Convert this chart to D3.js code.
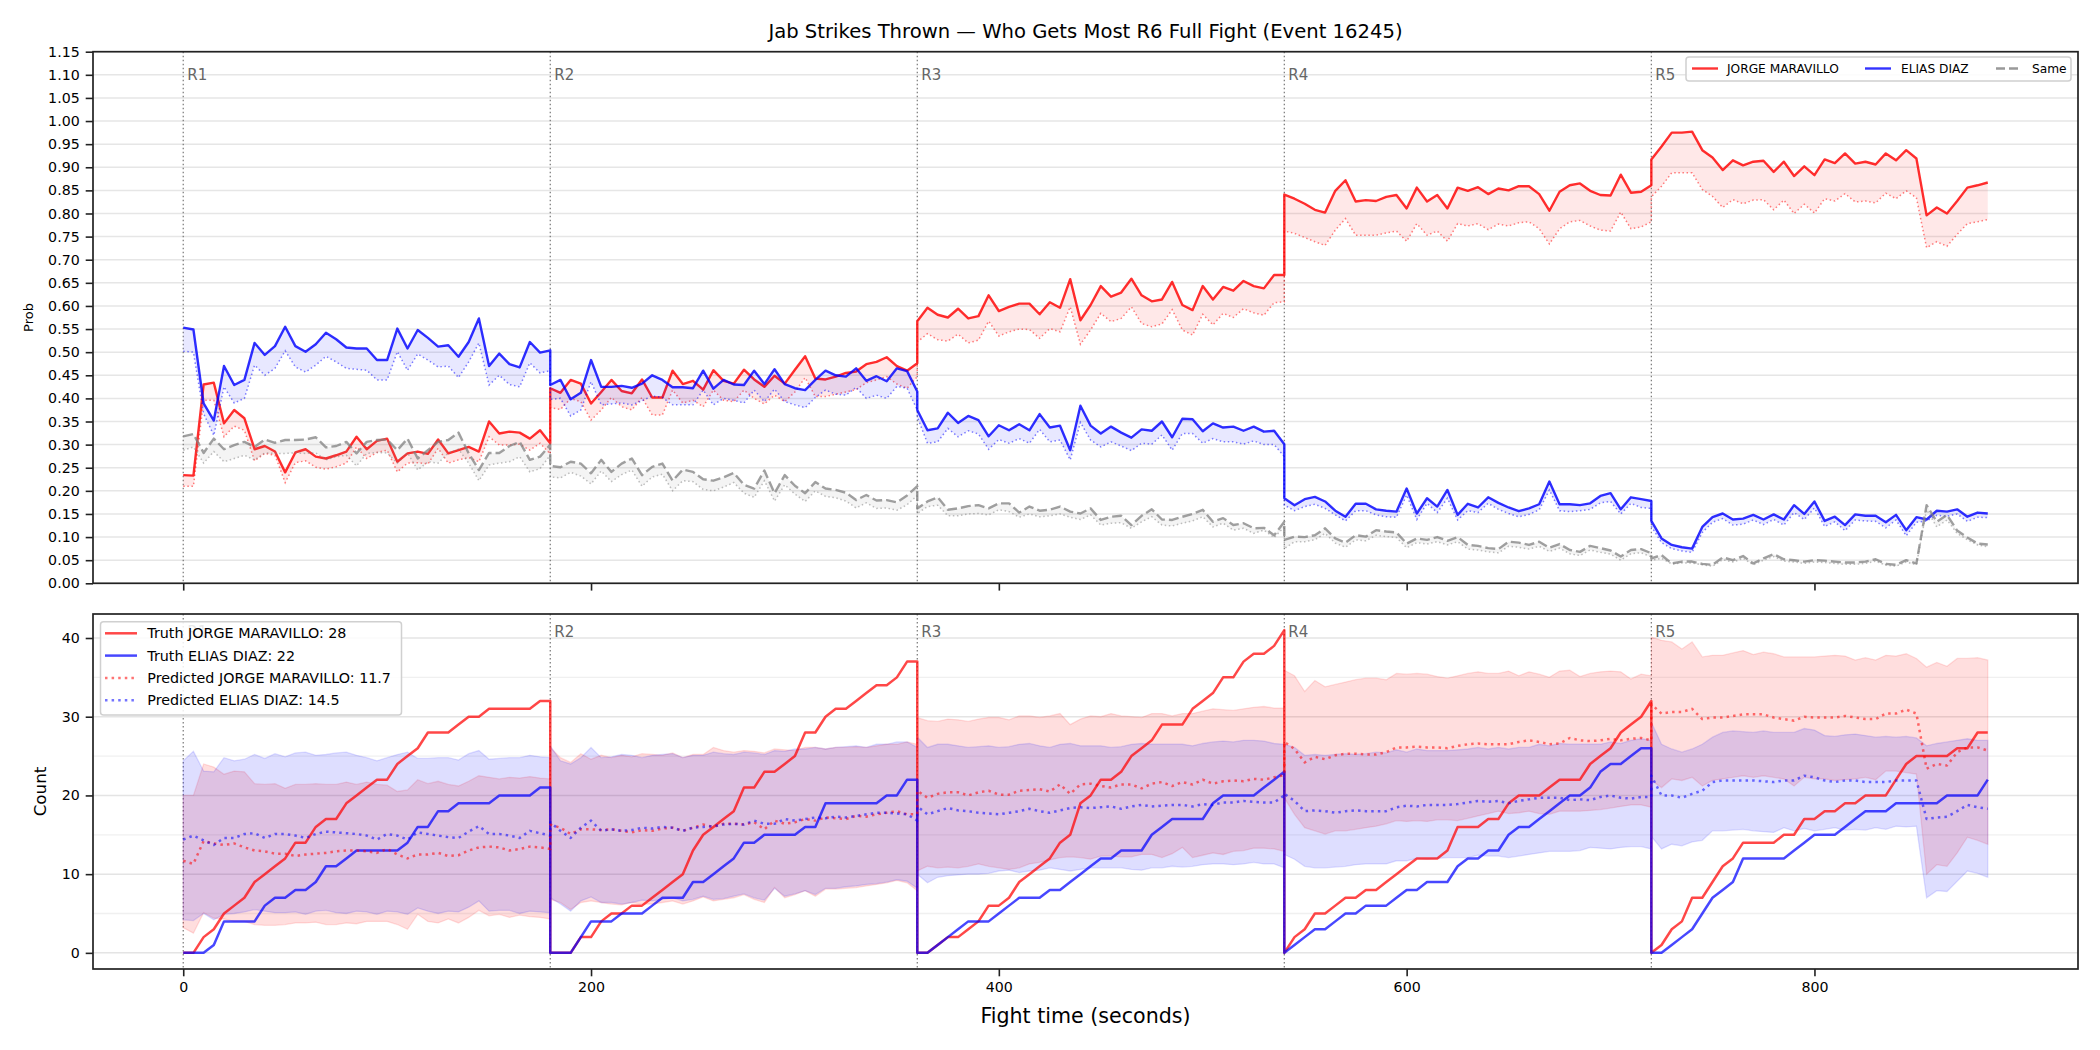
<!DOCTYPE html>
<html>
<head>
<meta charset="utf-8">
<script src="https://cdn.jsdelivr.net/npm/d3@7"></script>
<style>
  body { margin: 0; background: #fff; }
  svg { font-family: "DejaVu Sans", sans-serif; }
</style>
</head>
<body>
<div id="chart"></div>
<script>
// ---- data (one sample every 5 s, each round restarts at its start time) ----
const roundStarts = [0, 180, 360, 540, 720];
const roundLabels = ["R1", "R2", "R3", "R4", "R5"];
const stepSec = 5;
const fighterA = "JORGE MARAVILLO";
const fighterB = "ELIAS DIAZ";
const truthTotals = [28, 22];
const predTotals = [11.7, 14.5];

// top panel: win probability, solid = model, dotted = lower estimate
const probRed = [
  [0.234,0.233,0.43,0.434,0.346,0.375,0.357,0.29,0.297,0.285,0.24,0.283,0.29,0.274,0.27,0.277,0.285,0.317,0.29,0.308,0.313,0.263,0.281,0.285,0.28,0.311,0.281,0.288,0.295,0.285,0.35,0.324,0.328,0.326,0.313,0.331,0.303],
  [0.422,0.412,0.44,0.432,0.389,0.414,0.44,0.416,0.411,0.441,0.402,0.402,0.46,0.431,0.438,0.419,0.461,0.438,0.432,0.462,0.441,0.425,0.449,0.432,0.462,0.491,0.443,0.441,0.447,0.455,0.458,0.474,0.479,0.489,0.47,0.46,0.476],
  [0.567,0.596,0.581,0.575,0.594,0.573,0.578,0.623,0.589,0.598,0.605,0.605,0.582,0.608,0.596,0.658,0.569,0.602,0.643,0.62,0.629,0.659,0.623,0.61,0.614,0.652,0.602,0.591,0.643,0.614,0.641,0.633,0.654,0.643,0.638,0.667,0.667],
  [0.841,0.832,0.821,0.808,0.802,0.849,0.872,0.826,0.829,0.827,0.836,0.84,0.811,0.856,0.826,0.84,0.811,0.856,0.849,0.857,0.842,0.854,0.85,0.859,0.859,0.842,0.806,0.847,0.861,0.865,0.849,0.84,0.839,0.884,0.845,0.847,0.861],
  [0.917,0.945,0.975,0.975,0.977,0.937,0.921,0.894,0.915,0.904,0.912,0.914,0.89,0.912,0.881,0.902,0.883,0.917,0.909,0.93,0.908,0.912,0.906,0.93,0.915,0.937,0.919,0.796,0.813,0.8,0.827,0.856,0.861,0.867]
];
const probRedLow = [
  [0.21,0.21,0.396,0.396,0.317,0.34,0.331,0.265,0.281,0.277,0.218,0.261,0.265,0.251,0.247,0.252,0.26,0.295,0.27,0.283,0.288,0.241,0.26,0.261,0.258,0.292,0.26,0.267,0.272,0.263,0.317,0.299,0.299,0.301,0.288,0.303,0.28],
  [0.38,0.376,0.40,0.393,0.353,0.375,0.402,0.382,0.375,0.402,0.364,0.364,0.418,0.39,0.396,0.382,0.418,0.396,0.393,0.418,0.40,0.388,0.407,0.393,0.414,0.445,0.404,0.404,0.409,0.414,0.419,0.434,0.44,0.447,0.431,0.422,0.447],
  [0.522,0.54,0.527,0.524,0.539,0.52,0.526,0.567,0.535,0.544,0.55,0.549,0.53,0.551,0.544,0.598,0.517,0.548,0.584,0.566,0.573,0.598,0.562,0.555,0.561,0.592,0.548,0.537,0.582,0.559,0.584,0.575,0.594,0.585,0.58,0.607,0.609],
  [0.762,0.757,0.748,0.739,0.731,0.764,0.789,0.753,0.753,0.753,0.758,0.762,0.74,0.778,0.753,0.762,0.74,0.778,0.773,0.778,0.765,0.777,0.773,0.78,0.782,0.767,0.734,0.767,0.782,0.785,0.773,0.764,0.762,0.803,0.767,0.771,0.782],
  [0.836,0.859,0.888,0.888,0.888,0.852,0.837,0.813,0.83,0.821,0.829,0.83,0.808,0.829,0.80,0.82,0.801,0.832,0.827,0.843,0.825,0.827,0.823,0.844,0.832,0.849,0.834,0.726,0.739,0.729,0.755,0.778,0.782,0.787]
];
const probBlue = [
  [0.553,0.549,0.389,0.352,0.47,0.429,0.44,0.52,0.494,0.513,0.555,0.513,0.501,0.517,0.542,0.528,0.51,0.508,0.508,0.483,0.483,0.551,0.508,0.548,0.531,0.512,0.515,0.49,0.522,0.573,0.47,0.497,0.474,0.467,0.522,0.499,0.504],
  [0.429,0.44,0.398,0.412,0.483,0.425,0.425,0.427,0.423,0.432,0.45,0.44,0.424,0.424,0.422,0.46,0.421,0.44,0.43,0.429,0.46,0.431,0.463,0.431,0.422,0.418,0.44,0.46,0.45,0.447,0.465,0.438,0.448,0.437,0.465,0.459,0.415],
  [0.375,0.331,0.335,0.369,0.347,0.362,0.353,0.318,0.342,0.331,0.344,0.331,0.366,0.337,0.341,0.288,0.384,0.341,0.324,0.339,0.326,0.315,0.333,0.33,0.35,0.316,0.356,0.355,0.329,0.346,0.337,0.339,0.33,0.339,0.328,0.33,0.301],
  [0.184,0.169,0.182,0.187,0.177,0.157,0.144,0.172,0.172,0.16,0.157,0.155,0.205,0.151,0.184,0.166,0.202,0.148,0.172,0.164,0.186,0.174,0.164,0.156,0.162,0.171,0.22,0.171,0.171,0.169,0.173,0.189,0.195,0.16,0.186,0.182,0.178],
  [0.135,0.097,0.083,0.078,0.075,0.122,0.143,0.151,0.138,0.14,0.148,0.138,0.149,0.138,0.169,0.15,0.177,0.135,0.144,0.126,0.149,0.146,0.146,0.132,0.148,0.115,0.143,0.138,0.157,0.155,0.16,0.144,0.153,0.151]
];
const probBlueLow = [
  [0.502,0.5,0.367,0.32,0.425,0.39,0.4,0.472,0.45,0.465,0.503,0.468,0.457,0.472,0.491,0.479,0.465,0.463,0.461,0.44,0.44,0.501,0.461,0.496,0.483,0.468,0.47,0.445,0.479,0.52,0.429,0.45,0.43,0.425,0.477,0.455,0.46],
  [0.398,0.40,0.362,0.375,0.436,0.386,0.388,0.39,0.386,0.395,0.405,0.402,0.386,0.386,0.386,0.418,0.386,0.40,0.396,0.39,0.418,0.393,0.42,0.393,0.386,0.38,0.402,0.418,0.409,0.407,0.424,0.40,0.407,0.40,0.426,0.422,0.375],
  [0.36,0.303,0.306,0.335,0.317,0.33,0.323,0.29,0.311,0.303,0.313,0.303,0.333,0.306,0.31,0.267,0.348,0.31,0.295,0.306,0.297,0.287,0.303,0.301,0.321,0.288,0.324,0.324,0.303,0.313,0.306,0.306,0.301,0.308,0.30,0.30,0.274],
  [0.169,0.157,0.166,0.171,0.162,0.148,0.135,0.157,0.157,0.148,0.144,0.143,0.191,0.138,0.173,0.153,0.184,0.137,0.157,0.153,0.173,0.16,0.151,0.144,0.149,0.159,0.202,0.157,0.155,0.157,0.16,0.174,0.177,0.15,0.173,0.164,0.162],
  [0.123,0.088,0.075,0.07,0.067,0.11,0.132,0.14,0.126,0.128,0.137,0.127,0.138,0.126,0.153,0.138,0.163,0.123,0.133,0.114,0.137,0.135,0.134,0.12,0.137,0.103,0.132,0.135,0.147,0.145,0.15,0.134,0.143,0.142]
];
const probSame = [
  [0.318,0.323,0.282,0.313,0.29,0.299,0.306,0.295,0.311,0.304,0.31,0.31,0.311,0.316,0.294,0.297,0.306,0.281,0.306,0.31,0.311,0.288,0.313,0.27,0.288,0.306,0.31,0.326,0.281,0.245,0.282,0.282,0.297,0.306,0.267,0.274,0.30],
  [0.254,0.251,0.263,0.259,0.238,0.267,0.241,0.259,0.27,0.234,0.252,0.259,0.222,0.246,0.241,0.225,0.222,0.229,0.239,0.213,0.205,0.244,0.195,0.234,0.211,0.195,0.219,0.205,0.202,0.196,0.18,0.191,0.179,0.18,0.175,0.19,0.21],
  [0.162,0.177,0.186,0.159,0.162,0.167,0.169,0.162,0.173,0.173,0.153,0.166,0.157,0.159,0.166,0.155,0.151,0.162,0.137,0.144,0.146,0.126,0.146,0.16,0.138,0.137,0.144,0.15,0.159,0.133,0.141,0.126,0.13,0.119,0.12,0.104,0.133],
  [0.094,0.101,0.1,0.104,0.119,0.097,0.088,0.104,0.101,0.115,0.112,0.11,0.086,0.097,0.094,0.1,0.092,0.1,0.083,0.081,0.076,0.074,0.09,0.088,0.083,0.09,0.077,0.085,0.072,0.068,0.081,0.076,0.071,0.058,0.072,0.074,0.065],
  [0.054,0.061,0.043,0.047,0.047,0.042,0.04,0.056,0.05,0.059,0.043,0.054,0.063,0.052,0.05,0.047,0.05,0.049,0.047,0.045,0.045,0.047,0.052,0.042,0.04,0.05,0.043,0.169,0.133,0.148,0.114,0.099,0.086,0.084]
];
const probSameLow = [
  [0.288,0.295,0.26,0.285,0.263,0.27,0.277,0.267,0.282,0.281,0.281,0.282,0.281,0.282,0.267,0.274,0.277,0.254,0.281,0.283,0.282,0.26,0.282,0.245,0.263,0.26,0.282,0.29,0.26,0.222,0.256,0.26,0.263,0.274,0.241,0.248,0.277],
  [0.23,0.228,0.24,0.232,0.215,0.243,0.22,0.235,0.245,0.21,0.23,0.236,0.2,0.222,0.22,0.203,0.2,0.208,0.218,0.195,0.186,0.222,0.178,0.213,0.193,0.177,0.2,0.188,0.185,0.178,0.163,0.174,0.162,0.163,0.158,0.17,0.19],
  [0.151,0.166,0.169,0.146,0.146,0.15,0.151,0.148,0.159,0.155,0.143,0.15,0.144,0.146,0.15,0.143,0.138,0.148,0.126,0.13,0.131,0.119,0.133,0.144,0.126,0.124,0.13,0.135,0.144,0.122,0.13,0.115,0.119,0.108,0.115,0.099,0.122],
  [0.075,0.09,0.09,0.094,0.108,0.087,0.078,0.094,0.092,0.104,0.101,0.099,0.077,0.088,0.085,0.09,0.083,0.09,0.074,0.072,0.068,0.066,0.08,0.078,0.074,0.08,0.069,0.076,0.064,0.06,0.072,0.067,0.063,0.05,0.064,0.066,0.057],
  [0.05,0.054,0.042,0.044,0.044,0.04,0.037,0.051,0.046,0.054,0.04,0.05,0.058,0.048,0.046,0.043,0.046,0.045,0.043,0.041,0.041,0.043,0.048,0.039,0.037,0.046,0.04,0.159,0.122,0.137,0.108,0.094,0.083,0.079]
];

// bottom panel: cumulative jab counts per round
const truthRed = [
  [0,0,2,3,5,6,7,9,10,11,12,14,14,16,17,17,19,20,21,22,22,24,25,26,28,28,28,29,30,30,31,31,31,31,31,32,32],
  [0,0,0,2,2,4,5,5,6,6,7,8,9,10,13,15,16,17,18,21,21,23,23,24,25,28,28,30,31,31,32,33,34,34,35,37,37],
  [0,0,1,2,2,3,4,6,6,7,9,10,11,12,14,15,19,20,22,22,23,25,26,27,29,29,29,31,32,33,35,35,37,38,38,39,41],
  [0,2,3,5,5,6,7,7,8,8,9,10,11,12,12,12,13,16,16,16,17,17,19,20,20,20,21,22,22,22,24,25,26,28,29,30,32],
  [0,1,3,4,7,7,9,11,12,14,14,14,14,15,15,17,17,18,18,19,19,20,20,20,22,24,25,25,25,25,26,26,28,28]
];
const truthBlue = [
  [0,0,0,1,4,4,4,4,6,7,7,8,8,9,11,11,12,13,13,13,13,13,14,16,16,18,18,19,19,19,19,20,20,20,20,21,21],
  [0,0,0,2,4,4,4,5,5,5,6,7,7,7,9,9,10,11,12,14,14,15,15,15,15,16,16,19,19,19,19,19,19,20,20,22,22],
  [0,0,1,2,3,4,4,4,5,6,7,7,7,8,8,9,10,11,12,12,13,13,13,15,16,17,17,17,17,19,20,20,20,20,21,22,23],
  [0,1,2,3,3,4,5,5,6,6,6,7,8,8,9,9,9,11,12,12,13,13,15,16,16,17,18,19,20,20,21,23,24,24,25,26,26],
  [0,0,1,2,3,5,7,8,9,12,12,12,12,12,13,14,15,15,15,16,17,18,18,18,19,19,19,19,19,20,20,20,20,22]
];
const predRed = [
  [11.7,11.3,14.2,13.9,13.7,13.9,13.4,13.0,12.9,12.6,12.6,12.3,12.5,12.6,12.7,12.9,13.0,13.0,12.9,12.7,13.2,12.5,12.0,12.5,12.5,12.7,12.3,12.4,13.0,13.4,13.5,13.4,13.0,13.2,13.5,13.4,13.2],
  [16.3,15.9,15.1,15.7,15.7,15.6,15.7,15.5,15.3,15.6,15.5,15.8,15.9,15.5,15.9,16.3,16.0,16.4,16.4,16.3,16.6,15.7,16.8,16.4,16.6,17.0,16.8,17.2,17.1,17.0,17.4,17.3,17.6,17.8,18.0,17.6,17.6],
  [20.6,19.7,20.2,20.4,20.4,20.0,20.4,20.6,20.1,20.1,20.6,20.7,20.8,20.5,21.4,20.2,21.4,21.5,21.2,21.0,21.4,21.4,20.9,21.5,21.7,21.2,21.7,21.4,22.0,21.5,21.8,21.9,21.8,22.1,22.0,22.3,22.6],
  [26.8,25.9,24.2,24.9,24.6,25.1,25.3,25.3,25.2,25.2,25.5,26.1,26.1,26.2,26.1,26.1,26.0,26.3,26.5,26.6,26.5,26.5,26.5,26.8,27.0,26.8,26.5,26.6,27.3,27.0,26.9,27.0,27.2,27.0,27.2,27.3,27.0],
  [31.6,30.4,30.6,30.6,31.0,29.7,29.9,29.9,30.1,30.3,30.3,30.3,29.9,29.7,29.5,30.0,29.9,29.9,29.9,30.1,29.9,29.7,29.7,30.4,30.4,30.9,30.4,23.4,24.0,23.8,25.5,26.1,26.1,25.7]
];
const predBlue = [
  [14.4,14.9,14.3,13.7,14.6,14.6,15.1,15.2,14.6,15.1,15.1,14.9,14.6,15.1,15.4,15.3,15.2,15.1,14.9,14.4,15.1,14.9,14.4,15.3,15.1,14.9,14.7,14.6,15.4,16.1,15.1,15.1,14.9,14.6,15.5,15.2,14.9],
  [16.6,15.5,14.6,15.9,16.8,15.5,15.7,15.5,15.6,15.9,15.8,16.0,15.9,15.5,15.9,16.0,16.1,16.3,16.4,16.3,16.8,16.4,16.4,17.0,16.8,17.0,17.2,17.1,17.3,17.2,17.4,17.6,17.8,17.8,17.7,17.6,16.8],
  [18.6,17.6,18.0,18.4,18.1,18.0,17.8,17.7,17.6,17.8,18.0,18.3,18.0,17.8,18.1,18.4,18.5,18.4,18.5,18.6,18.3,18.6,18.8,18.6,18.7,18.8,18.8,18.6,18.9,18.8,19.1,19.1,19.3,19.2,19.1,19.1,20.0],
  [20.2,19.3,18.0,18.1,18.0,17.8,18.0,18.1,18.0,18.0,18.0,18.5,18.7,18.6,18.8,18.8,18.8,18.9,19.1,19.3,19.2,19.3,19.0,19.3,19.5,19.7,19.7,19.7,19.4,19.5,19.4,19.8,20.0,19.7,19.6,19.8,19.8],
  [22.5,20.0,20.0,19.7,20.2,20.6,21.7,21.9,21.9,21.9,21.9,21.8,21.7,21.9,21.9,22.5,22.3,21.9,21.7,21.9,21.9,21.7,21.7,21.7,21.9,21.9,21.9,17.0,17.2,17.3,18.0,18.8,18.5,18.3]
];
const bandRedHi = [
  [20,20,24,23.6,22.7,23.1,23,21.5,21.4,21.5,20.9,21.4,21.4,21.5,21.4,21.4,21.7,21.4,21.7,21.4,21.3,20.5,20.7,22,21.5,21.8,21.4,21.2,21.8,22.5,22.3,22.1,22.3,22.2,22.4,22.2,22.1],
  [26.1,24.8,24.2,25.3,24.6,25.1,24.8,25.1,24.9,25.3,25.2,25.1,25.4,24.8,25.2,25.2,26.1,25.7,25.5,25.7,25.6,25.4,25.9,25.8,25.7,26.1,26.1,25.9,26.1,26.1,26.2,26.1,26.3,26.5,26.5,26.8,26.5],
  [29.9,29.5,29.4,29.7,29.6,29.4,29.7,29.9,29.9,29.6,30.1,30.1,29.9,30.1,30.4,29.0,29.7,30.1,30.0,30.4,30.1,30.0,29.9,30.4,30.4,30.1,30.4,30.4,30.7,31.0,30.9,30.8,31.0,31.2,31.3,31.1,31.1],
  [35.9,35.2,33.2,34.6,33.8,34.1,34.4,34.7,34.9,34.9,34.7,35.5,35.4,35.5,35.4,35.1,34.9,35.2,35.5,35.7,35.5,35.5,35.8,35.2,35.7,35.4,35.0,35.8,35.9,35.1,35.5,35.7,35.8,35.7,34.8,35.4,35.2],
  [40.1,39.7,39.5,38.6,39.5,37.6,37.8,37.8,38.1,38.4,37.9,38.2,38.0,37.6,37.6,37.6,37.6,37.7,37.8,37.7,37.2,37.5,37.2,37.8,37.7,38.0,37.4,36.3,36.9,36.4,37.4,37.4,37.5,37.2]
];
const bandRedLo = [
  [3.2,2.5,5.1,4.4,4.3,4.0,4.0,3.6,3.5,3.5,3.6,3.8,3.8,3.9,3.6,3.6,3.8,3.7,4.0,4.0,4.0,3.6,3.0,4.9,4.0,3.8,4.3,3.8,4.5,5.4,4.7,4.9,4.5,4.8,4.6,4.5,4.3],
  [6.8,6.4,5.5,6.4,6.6,6.4,6.2,6.1,6.4,6.2,6.2,6.4,6.6,6.2,6.6,7.1,6.6,6.8,7.0,7.4,6.8,6.4,8.3,7.0,7.4,7.9,7.2,8.1,8.1,8.2,8.3,8.5,8.7,8.9,9.2,8.9,7.9],
  [10.4,11.0,10.8,10.9,10.8,11.0,11.3,11.0,10.8,10.6,10.8,11.3,11.5,11.8,12.1,12.2,12.1,11.9,12.3,12.3,12.2,12.2,12.5,12.5,12.1,12.6,13.4,12.1,12.4,12.7,12.5,12.9,13.0,13.3,13.3,13.2,12.9],
  [19.7,17.6,15.9,15.5,15.1,15.5,15.5,15.7,15.9,16.1,16.4,16.8,16.7,16.8,16.7,16.9,16.9,16.8,17.1,17.4,17.7,18.0,17.7,17.8,18.0,17.7,17.6,18.0,18.0,18.0,18.1,18.2,18.4,18.6,18.8,18.8,18.5],
  [21.9,21.0,22.1,21.9,22.3,21.2,21.9,22.1,22.3,22.5,22.3,22.5,22.3,22.1,21.2,22.3,22.1,22.1,21.9,22.0,22.1,22.3,22.0,23.1,23.1,22.9,22.7,10.0,11.2,11.0,12.7,14.7,14.3,13.8]
];
const bandBlueHi = [
  [24.4,25.6,23.1,23,24.8,24.4,24.6,25.2,24.7,25.3,24.9,25.4,25.5,25.1,25.2,25.4,25.5,25.1,24.8,24.4,24.8,25.2,25.5,24.7,24.7,24.8,24.8,24.5,25.3,25.7,24.6,24.7,24.8,24.8,25.1,24.9,24.8],
  [26.3,24.4,24.0,24.8,26.1,24.8,24.9,25.2,25.1,24.8,25.1,25.2,25.3,24.8,25.1,25.1,25.5,25.3,25.2,25.5,25.4,25.2,25.7,25.6,25.9,25.9,26.1,25.9,26.1,26.2,26.3,26.1,26.5,26.5,26.8,26.8,26.1],
  [27.4,26.1,26.5,26.5,26.3,26.1,26.2,26.3,26.1,26.2,26.5,26.6,26.3,26.1,26.5,26.6,26.3,26.3,26.3,26.1,26.2,26.5,26.6,26.5,26.5,26.5,26.5,26.3,26.6,26.8,26.9,26.8,27.0,27.0,26.9,26.6,26.5],
  [26.5,26.1,25.1,25.2,25.1,25.2,25.3,25.2,25.3,25.5,25.4,25.8,25.5,25.9,25.7,25.7,25.7,25.8,25.9,26.1,25.9,26.1,25.9,26.1,26.1,26.5,26.3,26.6,26.5,26.5,26.5,26.5,26.8,26.6,27.0,27.2,27.0],
  [29.3,26.5,25.9,25.5,25.9,26.5,27.4,28.0,28.2,28.1,28.0,28.2,28.0,28.0,28.0,28.5,28.3,27.6,27.5,27.7,27.8,27.6,27.4,27.5,27.4,27.5,27.3,26.3,26.6,26.8,27.0,27.2,27.0,27.0]
];
const bandBlueLo = [
  [4.2,4.1,5.0,4.2,4.9,5.0,5.2,5.5,5.3,5.1,5.1,5.2,4.9,5.3,5.4,5.1,5.0,5.3,5.2,4.9,5.3,5.2,4.9,5.7,5.3,5.0,5.3,5.2,5.8,6.6,5.3,5.4,5.4,5.0,5.3,5.2,5.1],
  [7.0,6.2,5.3,6.6,7.1,6.4,6.4,6.2,6.4,6.7,6.6,6.8,7.0,6.6,6.8,7.2,6.8,6.9,7.2,7.5,7.0,6.7,8.2,7.2,7.5,7.9,7.4,8.2,8.2,8.4,8.5,8.7,8.8,9.0,9.3,9.1,8.2],
  [10.0,8.9,9.6,9.8,9.9,10.0,10.0,10.1,10.4,10.5,10.2,10.4,10.5,10.8,10.6,10.4,10.6,10.8,10.8,10.8,10.8,10.6,10.5,10.8,10.8,11.0,10.9,11.0,11.2,11.3,11.3,11.2,11.3,11.5,11.3,11.3,10.8],
  [12.5,11.9,11.0,10.8,10.8,10.9,11.0,11.2,11.3,11.3,11.3,11.7,11.7,12.0,11.9,12.0,12.1,12.1,12.1,12.4,12.3,12.3,12.1,12.3,12.5,12.7,12.9,12.9,12.9,13.0,13.4,13.3,13.2,13.4,13.5,13.5,13.2],
  [14.8,13.2,13.8,13.6,14.1,14.3,15.5,15.5,15.6,15.7,15.5,15.4,15.3,15.9,15.5,15.8,15.5,15.7,15.9,15.6,15.7,15.6,15.9,15.7,16.1,16.0,16.1,7.0,7.9,7.8,9.1,10.4,10.1,9.6]
];

const probTicks = d3.range(0, 24).map(i => +(i * 0.05).toFixed(2));
const countTicks = [0, 10, 20, 30, 40];
const countMinor = [5, 15, 25, 35];
const timeTicks = [0, 200, 400, 600, 800];

// ---- layout ----
const W = 2100, H = 1050;
const left = 93, right = 2078;
const topY0 = 51.7, topY1 = 583.3;
const botY0 = 614, botY1 = 969;
const tickFont = 14.2;

const svg = d3.select("#chart").append("svg")
  .attr("width", W).attr("height", H);

const x = d3.scaleLinear().domain([-44.25, 929.25]).range([left, right]);
const yTop = d3.scaleLinear().domain([0, 1.15]).range([topY1, topY0]);
const yBot = d3.scaleLinear().domain([-2.05, 43.05]).range([botY1, botY0]);

// flatten per-round arrays into {t, v}
function toPoints(rounds) {
  const pts = [];
  rounds.forEach((vals, r) => vals.forEach((v, i) => pts.push({ t: roundStarts[r] + stepSec * i, v: v })));
  return pts;
}
function toBand(hiRounds, loRounds) {
  const hi = toPoints(hiRounds), lo = toPoints(loRounds);
  return hi.map((d, i) => ({ t: d.t, hi: d.v, lo: lo[i].v }));
}

const defs = svg.append("defs");
defs.append("clipPath").attr("id", "clipTop").append("rect")
  .attr("x", left).attr("y", topY0).attr("width", right - left).attr("height", topY1 - topY0);
defs.append("clipPath").attr("id", "clipBot").append("rect")
  .attr("x", left).attr("y", botY0).attr("width", right - left).attr("height", botY1 - botY0);

// title
svg.append("text")
  .attr("x", (left + right) / 2).attr("y", 31).attr("dy", "0.35em")
  .attr("text-anchor", "middle").attr("font-size", 19.6).attr("fill", "#000")
  .text("Jab Strikes Thrown \u2014 Who Gets Most R6 Full Fight (Event 16245)");

// ================= TOP PANEL =================
const gTop = svg.append("g");

// grid
gTop.selectAll(".grid").data(probTicks).enter().append("line")
  .attr("x1", left).attr("x2", right)
  .attr("y1", d => yTop(d)).attr("y2", d => yTop(d))
  .attr("stroke", "#e6e6e6").attr("stroke-width", 1.5);

const plotTop = gTop.append("g").attr("clip-path", "url(#clipTop)");

// round markers
plotTop.selectAll(".rline").data(roundStarts).enter().append("line")
  .attr("x1", d => x(d)).attr("x2", d => x(d))
  .attr("y1", topY0).attr("y2", topY1)
  .attr("stroke", "#555").attr("stroke-width", 1.2).attr("stroke-dasharray", "1.5,2.5")
  .attr("opacity", 0.8);
gTop.selectAll(".rlab").data(roundStarts).enter().append("text")
  .attr("x", d => x(d) + 4).attr("y", topY0 + 16).attr("dy", "0.8em")
  .attr("font-size", 15).attr("fill", "#666")
  .text((d, i) => roundLabels[i]);

const probSeries = [
  { hi: probRed, lo: probRedLow, color: "#ff0000", name: fighterA, dash: null },
  { hi: probBlue, lo: probBlueLow, color: "#0000ff", name: fighterB, dash: null },
  { hi: probSame, lo: probSameLow, color: "#808080", name: "Same", dash: "10,4" }
];

probSeries.forEach(s => {
  const band = toBand(s.hi, s.lo);
  plotTop.append("path").datum(band)
    .attr("fill", s.color).attr("fill-opacity", 0.09)
    .attr("d", d3.area().x(d => x(d.t)).y0(d => yTop(d.lo)).y1(d => yTop(d.hi)));
  plotTop.append("path").datum(toPoints(s.lo))
    .attr("fill", "none").attr("stroke", s.color).attr("stroke-opacity", 0.5)
    .attr("stroke-width", 1.5).attr("stroke-dasharray", "1.5,2.6")
    .attr("d", d3.line().x(d => x(d.t)).y(d => yTop(d.v)));
  plotTop.append("path").datum(toPoints(s.hi))
    .attr("fill", "none").attr("stroke", s.color)
    .attr("stroke-opacity", s.dash ? 0.75 : 0.82)
    .attr("stroke-width", 2.4).attr("stroke-dasharray", s.dash)
    .attr("stroke-linejoin", "round")
    .attr("d", d3.line().x(d => x(d.t)).y(d => yTop(d.v)));
});

// axes
const axTopY = gTop.append("g").attr("transform", `translate(${left},0)`)
  .call(d3.axisLeft(yTop).tickValues(probTicks).tickFormat(d3.format(".2f")).tickSize(7.3).tickPadding(6));
const axTopX = gTop.append("g").attr("transform", `translate(0,${topY1})`)
  .call(d3.axisBottom(x).tickValues(timeTicks).tickFormat("").tickSize(7.3));
gTop.append("rect").attr("x", left).attr("y", topY0)
  .attr("width", right - left).attr("height", topY1 - topY0)
  .attr("fill", "none").attr("stroke", "#222").attr("stroke-width", 1.7);

svg.append("text")
  .attr("transform", `translate(28,${(topY0 + topY1) / 2}) rotate(-90)`)
  .attr("text-anchor", "middle").attr("dy", "0.35em")
  .attr("font-size", 13).text("Prob");

// top legend
const lgTop = svg.append("g");
lgTop.append("rect").attr("x", 1686).attr("y", 57).attr("width", 385).attr("height", 24)
  .attr("rx", 3).attr("fill", "#fff").attr("fill-opacity", 0.85)
  .attr("stroke", "#d0d0d0").attr("stroke-width", 1.5);
const topLegendItems = [
  { label: fighterA, color: "#ff0000", dash: null, hx: 1692, tx: 1727 },
  { label: fighterB, color: "#0000ff", dash: null, hx: 1865, tx: 1901 },
  { label: "Same", color: "#808080", dash: "9,4", hx: 1996, tx: 2032 }
];
topLegendItems.forEach(it => {
  lgTop.append("line").attr("x1", it.hx).attr("x2", it.hx + 26).attr("y1", 68.5).attr("y2", 68.5)
    .attr("stroke", it.color).attr("stroke-opacity", 0.8).attr("stroke-width", 2.4)
    .attr("stroke-dasharray", it.dash);
  lgTop.append("text").attr("x", it.tx).attr("y", 68.5).attr("dy", "0.36em")
    .attr("font-size", 12.2).text(it.label);
});

// ================= BOTTOM PANEL =================
const gBot = svg.append("g");

gBot.selectAll(".gridMinor").data(countMinor).enter().append("line")
  .attr("x1", left).attr("x2", right)
  .attr("y1", d => yBot(d)).attr("y2", d => yBot(d))
  .attr("stroke", "#f0f0f0").attr("stroke-width", 1.3);
gBot.selectAll(".grid").data(countTicks).enter().append("line")
  .attr("x1", left).attr("x2", right)
  .attr("y1", d => yBot(d)).attr("y2", d => yBot(d))
  .attr("stroke", "#e4e4e4").attr("stroke-width", 1.5);

const plotBot = gBot.append("g").attr("clip-path", "url(#clipBot)");

plotBot.selectAll(".rline").data(roundStarts).enter().append("line")
  .attr("x1", d => x(d)).attr("x2", d => x(d))
  .attr("y1", botY0).attr("y2", botY1)
  .attr("stroke", "#555").attr("stroke-width", 1.2).attr("stroke-dasharray", "1.5,2.5")
  .attr("opacity", 0.8);
gBot.selectAll(".rlab").data(roundStarts).enter().append("text")
  .attr("x", d => x(d) + 4).attr("y", botY0 + 11).attr("dy", "0.8em")
  .attr("font-size", 15).attr("fill", "#666")
  .text((d, i) => roundLabels[i]);

const bands = [
  { hi: bandRedHi, lo: bandRedLo, color: "#ff0000" },
  { hi: bandBlueHi, lo: bandBlueLo, color: "#0000ff" }
];
bands.forEach(b => {
  plotBot.append("path").datum(toBand(b.hi, b.lo))
    .attr("fill", b.color).attr("fill-opacity", 0.13)
    .attr("stroke", b.color).attr("stroke-opacity", 0.12).attr("stroke-width", 1.3)
    .attr("d", d3.area().x(d => x(d.t)).y0(d => yBot(d.lo)).y1(d => yBot(d.hi)));
});

const countLine = d3.line().x(d => x(d.t)).y(d => yBot(d.v));
const countSeries = [
  { data: truthRed, color: "#ff0000", op: 0.72, dash: null },
  { data: truthBlue, color: "#0000ff", op: 0.72, dash: null },
  { data: predRed, color: "#ff0000", op: 0.55, dash: "2.5,4.1" },
  { data: predBlue, color: "#0000ff", op: 0.55, dash: "2.5,4.1" }
];
countSeries.forEach(s => {
  plotBot.append("path").datum(toPoints(s.data))
    .attr("fill", "none").attr("stroke", s.color).attr("stroke-opacity", s.op)
    .attr("stroke-width", 2.5).attr("stroke-dasharray", s.dash)
    .attr("stroke-linejoin", "round")
    .attr("d", countLine);
});

gBot.append("g").attr("transform", `translate(${left},0)`)
  .call(d3.axisLeft(yBot).tickValues(countTicks).tickSize(7.3).tickPadding(6));
gBot.append("g").attr("transform", `translate(0,${botY1})`)
  .call(d3.axisBottom(x).tickValues(timeTicks).tickSize(7.3).tickPadding(6));
gBot.append("rect").attr("x", left).attr("y", botY0)
  .attr("width", right - left).attr("height", botY1 - botY0)
  .attr("fill", "none").attr("stroke", "#222").attr("stroke-width", 1.7);

svg.append("text")
  .attr("transform", `translate(40,${(botY0 + botY1) / 2}) rotate(-90)`)
  .attr("text-anchor", "middle").attr("dy", "0.35em")
  .attr("font-size", 16.7).text("Count");
svg.append("text")
  .attr("x", (left + right) / 2).attr("y", 1016).attr("dy", "0.35em")
  .attr("text-anchor", "middle").attr("font-size", 20.6).text("Fight time (seconds)");

// bottom legend
const lgBot = svg.append("g");
lgBot.append("rect").attr("x", 100.5).attr("y", 621.7).attr("width", 301).attr("height", 93.3)
  .attr("rx", 3).attr("fill", "#fff").attr("fill-opacity", 0.85)
  .attr("stroke", "#d0d0d0").attr("stroke-width", 1.5);
const botLegendItems = [
  { label: `Truth ${fighterA}: ${truthTotals[0]}`, color: "#ff0000", op: 0.72, dash: null },
  { label: `Truth ${fighterB}: ${truthTotals[1]}`, color: "#0000ff", op: 0.72, dash: null },
  { label: `Predicted ${fighterA}: ${predTotals[0]}`, color: "#ff0000", op: 0.55, dash: "2.5,4.1" },
  { label: `Predicted ${fighterB}: ${predTotals[1]}`, color: "#0000ff", op: 0.55, dash: "2.5,4.1" }
];
botLegendItems.forEach((it, i) => {
  const yy = 633.3 + i * 22.3;
  lgBot.append("line").attr("x1", 105).attr("x2", 137).attr("y1", yy).attr("y2", yy)
    .attr("stroke", it.color).attr("stroke-opacity", it.op).attr("stroke-width", 2.5)
    .attr("stroke-dasharray", it.dash);
  lgBot.append("text").attr("x", 147.3).attr("y", yy).attr("dy", "0.36em")
    .attr("font-size", 14.3).text(it.label);
});

// axis styling like matplotlib
svg.selectAll(".domain").remove();
svg.selectAll(".tick line").attr("stroke", "#222").attr("stroke-width", 1.6);
svg.selectAll(".tick text").attr("font-size", tickFont).attr("fill", "#000")
  .attr("font-family", "DejaVu Sans, sans-serif");
</script>
</body>
</html>
